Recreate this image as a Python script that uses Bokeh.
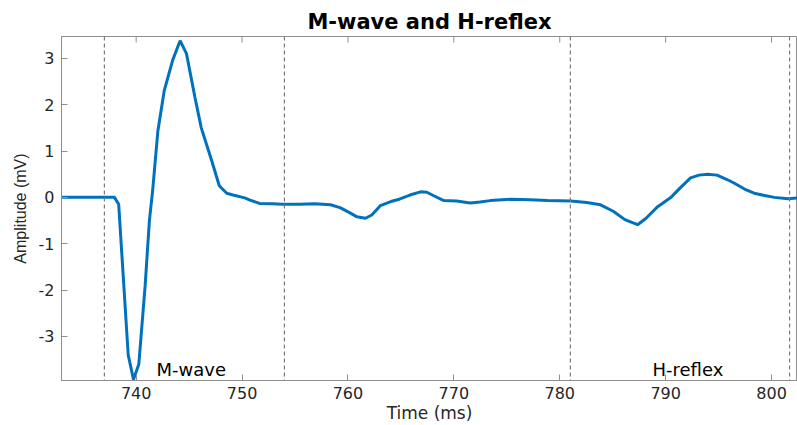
import math
from bokeh.plotting import figure
from bokeh.models import Span, FixedTicker, Range1d, Label
from bokeh.embed import file_html
from bokeh.resources import INLINE

# ---- data ----
time_ms = [733.0, 737.75, 737.95, 738.35, 739.25, 739.75, 740.25, 740.85, 741.25, 741.55,
           742.05, 742.65, 743.45, 744.15, 744.75, 745.55, 746.15, 747.15, 747.85, 748.55,
           749.15, 750.25, 750.75, 751.65, 752.85, 753.85, 755.45, 756.85, 758.35, 759.25,
           760.15, 760.85, 761.65, 762.25, 763.05, 764.05, 764.85, 765.85, 766.85, 767.45,
           768.15, 769.05, 770.25, 771.55, 772.45, 773.45, 775.35, 777.25, 778.85, 781.05,
           782.55, 783.85, 785.05, 786.15, 787.35, 788.15, 789.25, 790.45, 791.35, 792.35,
           793.15, 793.95, 794.85, 795.85, 796.45, 797.45, 798.35, 799.35, 800.25, 801.55,
           802.5]
amplitude_mv = [0.0, 0.0, 0.0, -0.15, -3.4, -3.93, -3.6, -1.9, -0.5, 0.13,
                1.43, 2.3, 2.96, 3.38, 3.1, 2.16, 1.5, 0.78, 0.25, 0.09,
                0.05, -0.01, -0.06, -0.13, -0.14, -0.15, -0.15, -0.14, -0.16, -0.22,
                -0.33, -0.42, -0.45, -0.38, -0.18, -0.09, -0.04, 0.05, 0.12, 0.11,
                0.03, -0.07, -0.08, -0.12, -0.10, -0.07, -0.04, -0.05, -0.07, -0.08,
                -0.11, -0.16, -0.3, -0.48, -0.59, -0.45, -0.2, -0.01, 0.2, 0.42,
                0.48, 0.5, 0.48, 0.38, 0.31, 0.18, 0.09, 0.04, 0.0, -0.03,
                -0.01]
window_marks = [737.0, 754.0, 781.0, 801.7]
label_texts = ["M-wave", "H-reflex"]
label_x = [745.2, 792.1]
label_y = [-3.72, -3.72]
x_ticks = [740, 750, 760, 770, 780, 790, 800]
y_ticks = [-3, -2, -1, 0, 1, 2, 3]

FONT = "DejaVu Sans"
AX = "#262626"
GRID = "#8f8f8f"
X0, X1 = 732.95, 802.45
Y0, Y1 = -3.95, 3.47

p = figure(width=797, height=425, output_backend="svg", toolbar_location=None,
           x_range=Range1d(X0, X1), y_range=Range1d(Y0, Y1),
           min_border_left=61, min_border_right=0, min_border_top=36, min_border_bottom=45,
           title="M-wave and H-reflex")
p.title.align = "center"
p.title.text_font = FONT
p.title.text_font_size = "21px"
p.title.text_font_style = "bold"
p.title.text_color = "#000000"
p.title.offset = 0
p.title.standoff = 6

p.grid.visible = False
p.outline_line_color = GRID
p.outline_line_width = 1
p.background_fill_color = "white"
p.border_fill_color = "white"

for ax in (p.xaxis[0], p.yaxis[0]):
    ax.axis_line_color = GRID
    ax.major_tick_line_color = GRID
    ax.major_tick_in = 6
    ax.major_tick_out = 0
    ax.minor_tick_line_color = None
    ax.major_label_text_font = FONT
    ax.major_label_text_font_size = "16px"
    ax.major_label_text_color = AX
    ax.axis_label_text_font_style = "normal"
    ax.axis_label_text_color = AX

p.xaxis.ticker = FixedTicker(ticks=x_ticks)
p.yaxis.ticker = FixedTicker(ticks=y_ticks)
p.yaxis.major_label_overrides = {t: str(t) for t in y_ticks}
p.xaxis.axis_label = "Time (ms)"
p.yaxis.axis_label = "Amplitude (mV)"
p.xaxis.axis_label_text_font = FONT
p.xaxis.axis_label_text_font_size = "17px"
p.yaxis.axis_label_text_font = "Liberation Sans"
p.yaxis.axis_label_text_font_size = "16px"
p.xaxis.major_label_standoff = 6
p.xaxis.axis_label_standoff = 1
p.yaxis.major_label_standoff = 7
p.yaxis.axis_label_standoff = 7

# inward tick marks along the top edge of the box (clipped to the frame)
p.scatter(x=x_ticks, y=[Y1] * len(x_ticks), marker="dash", angle=math.pi / 2,
          size=12, line_color=GRID, line_width=1)

for xm in window_marks:
    p.add_layout(Span(location=xm, dimension="height", line_color="#7a7a7a",
                      line_dash="4 3", line_width=1.2))

p.line(time_ms, amplitude_mv, line_color="#0072BD", line_width=3)

for t, xv, yv in zip(label_texts, label_x, label_y):
    p.add_layout(Label(x=xv, y=yv, text=t, text_align="center", text_baseline="alphabetic",
                       text_font=FONT, text_font_size="18px", text_color="#000000",
                       level="overlay"))

open("out.html", "w").write(file_html(p, INLINE))
